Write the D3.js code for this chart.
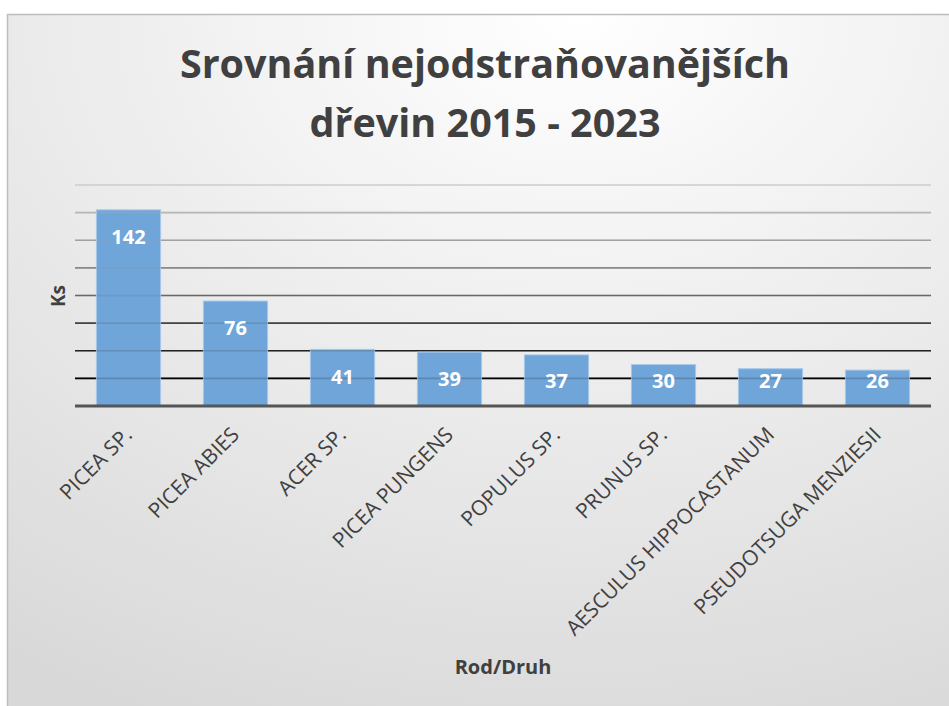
<!DOCTYPE html>
<html>
<head>
<meta charset="utf-8">
<script src="https://cdn.jsdelivr.net/npm/d3@7"></script>
<style>
  html, body { margin: 0; padding: 0; background: #ffffff; }
  svg { display: block; }
</style>
</head>
<body>
<svg id="chart" width="949" height="706"></svg>
<script>
const categories = ["PICEA SP.", "PICEA ABIES", "ACER SP.", "PICEA PUNGENS", "POPULUS SP.", "PRUNUS SP.", "AESCULUS HIPPOCASTANUM", "PSEUDOTSUGA MENZIESII"];
const values = [142, 76, 41, 39, 37, 30, 27, 26];
const yTicks = [20, 40, 60, 80, 100, 120, 140, 160];
const titleLines = ["Srovnání nejodstraňovanějších", "dřevin 2015 - 2023"];
const xTitle = "Rod/Druh";
const yTitle = "Ks";

const W = 949, H = 706;
const FONT = "'Open Sans', Lato, sans-serif";
const svg = d3.select("#chart");

const defs = svg.append("defs");
const bg = defs.append("radialGradient").attr("id", "bg")
  .attr("cx", "60%").attr("cy", "0%").attr("r", "110%")
  .attr("fx", "60%").attr("fy", "0%");
bg.append("stop").attr("offset", "0%").attr("stop-color", "#ffffff");
bg.append("stop").attr("offset", "100%").attr("stop-color", "#d8d8d8");

svg.append("rect").attr("x", 7.5).attr("y", 14.5).attr("width", W).attr("height", H)
  .attr("fill", "url(#bg)").attr("stroke", "#bdbdbd").attr("stroke-width", 1.5);

const plot = { left: 75, right: 931, top: 185, bottom: 406 };

const x = d3.scaleBand().domain(categories).range([plot.left, plot.right])
  .paddingInner(0.4).paddingOuter(0.2);
const y = d3.scaleLinear().domain([0, 160]).range([plot.bottom, plot.top]);

const gridColor = d3.scaleLinear().domain([160, 100, 20]).range(["#cfcfcf", "#8a8a8a", "#000000"]);

// gridlines under bars
const grid = svg.append("g");
grid.selectAll("line").data(yTicks).join("line")
  .attr("x1", plot.left).attr("x2", plot.right)
  .attr("y1", d => y(d)).attr("y2", d => y(d))
  .attr("stroke", d => gridColor(d)).attr("stroke-width", 1.6);

// bars
svg.append("g").selectAll("rect").data(values).join("rect")
  .attr("x", (d, i) => x(categories[i]))
  .attr("y", d => y(d))
  .attr("width", x.bandwidth())
  .attr("height", d => y(0) - y(d))
  .attr("fill", "#6fa5d8")
  .attr("stroke", "#a8c8ea").attr("stroke-width", 1);

// gridlines faintly over bars
svg.append("g").selectAll("line").data(yTicks).join("line")
  .attr("x1", plot.left).attr("x2", plot.right)
  .attr("y1", d => y(d)).attr("y2", d => y(d))
  .attr("stroke", d => gridColor(d)).attr("stroke-width", 1.6)
  .attr("stroke-opacity", 0.18);

// baseline
svg.append("line").attr("x1", plot.left).attr("x2", plot.right)
  .attr("y1", y(0)).attr("y2", y(0))
  .attr("stroke", "#555555").attr("stroke-width", 3);

// data labels
svg.append("g").selectAll("text").data(values).join("text")
  .attr("x", (d, i) => x(categories[i]) + x.bandwidth() / 2)
  .attr("y", d => Math.min(y(d) + 27, y(0) - 25))
  .attr("dy", "0.36em")
  .attr("text-anchor", "middle")
  .attr("fill", "#ffffff").attr("font-family", FONT)
  .attr("font-weight", 700).attr("font-size", 20)
  .text(d => d);

// x category labels
svg.append("g").selectAll("text").data(categories).join("text")
  .attr("transform", d => `translate(${x(d) + x.bandwidth() / 2 + 5},${y(0) + 30}) rotate(-45)`)
  .attr("text-anchor", "end")
  .attr("fill", "#404040").attr("font-family", FONT)
  .attr("font-size", 21)
  .text(d => d);

// title
svg.append("g").selectAll("text").data(titleLines).join("text")
  .attr("x", 485).attr("y", (d, i) => 78 + i * 59)
  .attr("text-anchor", "middle")
  .attr("fill", "#404040").attr("font-family", FONT)
  .attr("font-weight", 700).attr("font-size", 39.5)
  .text(d => d);

// axis titles
svg.append("text").attr("x", 503).attr("y", 674)
  .attr("text-anchor", "middle")
  .attr("fill", "#404040").attr("font-family", FONT)
  .attr("font-weight", 700).attr("font-size", 20)
  .text(xTitle);

svg.append("text").attr("transform", "translate(65,296) rotate(-90)")
  .attr("text-anchor", "middle")
  .attr("fill", "#404040").attr("font-family", FONT)
  .attr("font-weight", 700).attr("font-size", 19)
  .text(yTitle);
</script>
</body>
</html>
